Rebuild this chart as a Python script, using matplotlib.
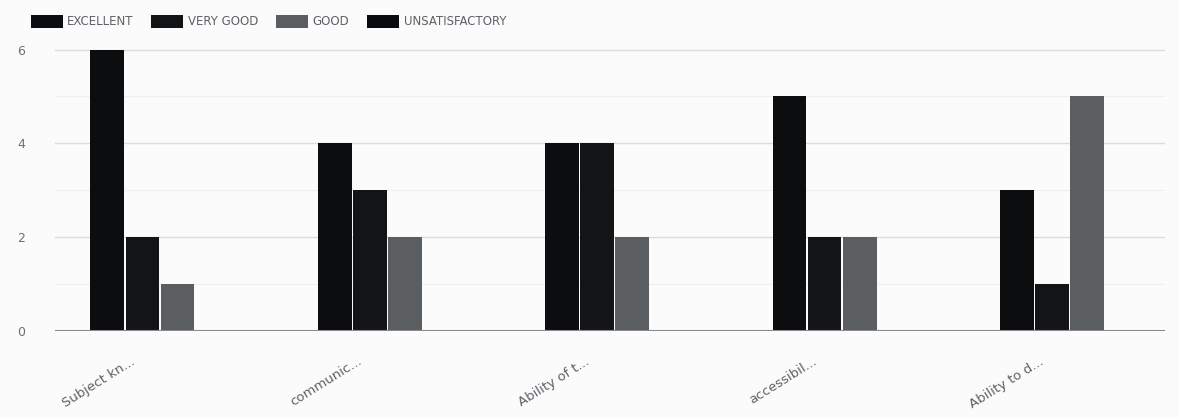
"""Grouped bar chart of rating counts per question."""
import matplotlib.pyplot as plt
import matplotlib.transforms as mtransforms
import numpy as np

CATEGORIES = ["Subject kn...", "communic...", "Ability of t...", "accessibil...", "Ability to d..."]
SERIES = ["EXCELLENT", "VERY GOOD", "GOOD", "UNSATISFACTORY"]
EXCELLENT = [6, 4, 4, 5, 3]
VERY_GOOD = [2, 3, 4, 2, 1]
GOOD = [1, 2, 2, 2, 5]
UNSATISFACTORY = [0, 0, 0, 0, 0]
Y_TICKS = [0, 2, 4, 6]

COLORS = ["#0c0d0f", "#131416", "#5a5e60", "#0a0b0c"]


def main() -> None:
    fig = plt.figure(figsize=(11.79, 4.18), dpi=100)
    fig.patch.set_facecolor("#fbfbfb")
    ax = fig.add_axes([0.047, 0.208, 0.941, 0.679])
    ax.set_facecolor("#fbfbfb")

    x = np.arange(len(CATEGORIES))
    width = 0.154
    values = [EXCELLENT, VERY_GOOD, GOOD, UNSATISFACTORY]
    for i, (name, vals, color) in enumerate(zip(SERIES, values, COLORS)):
        offset = (i - 1.5) * width
        ax.bar(x + offset, vals, width * 0.97, color=color, label=name, zorder=3)

    ax.set_xlim(-0.46, 4.42)
    ax.set_ylim(0, 6.05)
    ax.set_yticks(Y_TICKS)
    ax.set_yticks([1, 3, 5], minor=True)
    ax.grid(axis="y", which="major", color="#dcdcdc", linewidth=1.0, zorder=0)
    ax.grid(axis="y", which="minor", color="#efefef", linewidth=0.8, zorder=0)
    ax.axhline(0, color="#8a8a8e", linewidth=1.5, zorder=4)

    for side in ("top", "right", "left", "bottom"):
        ax.spines[side].set_visible(False)
    ax.tick_params(axis="both", which="both", length=0)
    ax.tick_params(axis="y", labelsize=9, labelcolor="#707078", pad=22)

    ax.set_xticks(x)
    ax.set_xticklabels(CATEGORIES, rotation=32, ha="right", rotation_mode="anchor",
                       fontsize=9.5, color="#606068")
    ax.tick_params(axis="x", pad=17)
    shift = mtransforms.ScaledTranslation(-0.3, 0, fig.dpi_scale_trans)
    for label in ax.get_xticklabels():
        label.set_transform(label.get_transform() + shift)

    fig.legend(loc="upper left", bbox_to_anchor=(0.017, 0.99), ncol=4, frameon=False,
               fontsize=8.5, labelcolor="#606068", handlelength=2.7, handleheight=1.3,
               columnspacing=1.5, handletextpad=0.4)

    fig.savefig("out.png", dpi=100, facecolor=fig.get_facecolor())
    plt.close(fig)


if __name__ == "__main__":
    main()
